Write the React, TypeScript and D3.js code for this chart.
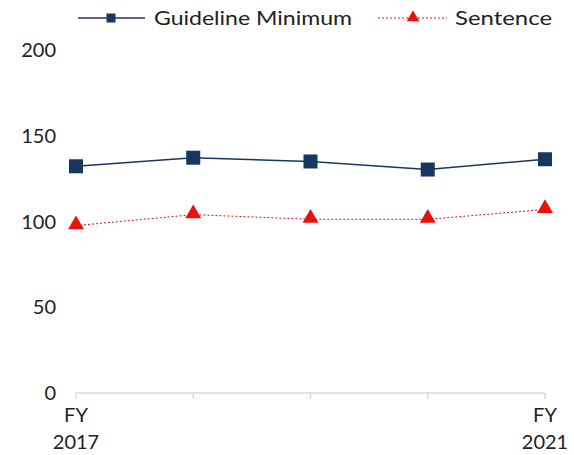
import React from "react";
import * as d3 from "d3";

const categories = ["FY 2017", "FY 2018", "FY 2019", "FY 2020", "FY 2021"];
const guidelineMinimum = [132.2, 137.2, 135.0, 130.3, 136.3];
const sentence = [97.6, 104.0, 101.3, 101.3, 107.0];
const yTicks = [0, 50, 100, 150, 200];

const W = 574;
const H = 455;
const NAVY = "#17375e";
const RED = "#e8120c";
const FONT = "Lato, 'Open Sans', sans-serif";

export default function App() {
  const x = d3.scalePoint<string>().domain(categories).range([76, 545]);
  const y = d3.scaleLinear().domain([0, 200]).range([393, 50]);
  const line = d3
    .line<number>()
    .x((_, i) => x(categories[i]) as number)
    .y((d) => y(d));
  const tri = d3.symbol().type(d3.symbolTriangle).size(110)();
  const triSmall = d3.symbol().type(d3.symbolTriangle).size(70)();

  return (
    <svg
      width={W}
      height={H}
      style={{ position: "absolute", left: 0, top: 0, background: "#fff" }}
      fontFamily={FONT}
    >
      {/* Legend */}
      <g>
        <line x1={78} x2={145} y1={18} y2={18} stroke={NAVY} strokeWidth={1.5} />
        <rect x={106.5} y={13.5} width={9} height={9} fill={NAVY} />
        <text x={154} y={25} fontSize={20} fill="#222" textLength={198} lengthAdjust="spacingAndGlyphs">
          Guideline Minimum
        </text>
        <line x1={378} x2={447} y1={18} y2={18} stroke={RED} strokeWidth={1} strokeDasharray="2,2" />
        <path d={triSmall ?? ""} transform="translate(413,17.5)" fill={RED} />
        <text x={455} y={25} fontSize={20} fill="#222" textLength={97} lengthAdjust="spacingAndGlyphs">
          Sentence
        </text>
      </g>
      {/* Y axis labels */}
      {yTicks.map((t) => (
        <text key={t} x={56} y={y(t) + 7} textAnchor="end" fontSize={20} fill="#222">
          {t}
        </text>
      ))}
      {/* X axis */}
      <line x1={76} x2={545} y1={y(0)} y2={y(0)} stroke="#d9d9d9" strokeWidth={1.5} />
      {categories.map((c) => (
        <line key={c} x1={x(c)} x2={x(c)} y1={y(0)} y2={y(0) + 6} stroke="#d9d9d9" strokeWidth={1.5} />
      ))}
      {[categories[0], categories[categories.length - 1]].map((c) => {
        const [a, b] = c.split(" ");
        return (
          <text key={c} textAnchor="middle" fontSize={20} fill="#222">
            <tspan x={x(c)} y={422}>{a}</tspan>
            <tspan x={x(c)} y={449}>{b}</tspan>
          </text>
        );
      })}
      {/* Series */}
      <path d={line(sentence) ?? ""} fill="none" stroke={RED} strokeWidth={1} strokeDasharray="2,2" />
      {sentence.map((v, i) => (
        <path key={i} d={tri ?? ""} transform={`translate(${x(categories[i])},${y(v) - 1})`} fill={RED} />
      ))}
      <path d={line(guidelineMinimum) ?? ""} fill="none" stroke={NAVY} strokeWidth={1.5} />
      {guidelineMinimum.map((v, i) => (
        <rect key={i} x={(x(categories[i]) as number) - 7} y={y(v) - 7} width={14} height={14} fill={NAVY} />
      ))}
    </svg>
  );
}
